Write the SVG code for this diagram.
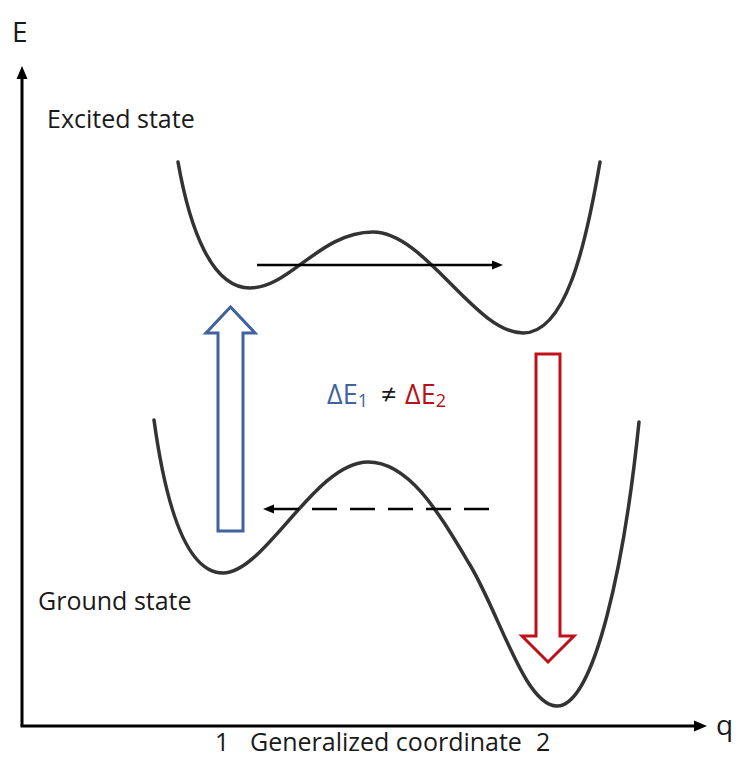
<svg xmlns="http://www.w3.org/2000/svg" width="739" height="759" viewBox="0 0 739 759">
  <style>
    text { font-family: "Open Sans", "Liberation Sans", Arial, sans-serif; }
    .lbl { fill: #1a1a1a; font-size: 25px; }
    .curve { fill: none; stroke: #333333; stroke-width: 3.5; stroke-linecap: round; }
    .axis { fill: none; stroke: #000; stroke-width: 3; }
    .conn { fill: none; stroke: #000; stroke-width: 2.5; }
    .hollow { fill: #ffffff; stroke-width: 3; stroke-linejoin: miter; }
  </style>
  <defs>
    <marker id="head" markerUnits="userSpaceOnUse" markerWidth="14" markerHeight="12" refX="1" refY="6" orient="auto">
      <path d="M0,0.5 L13,6 L0,11.5 z" fill="#000"/>
    </marker>
    <marker id="headsm" markerUnits="userSpaceOnUse" markerWidth="12" markerHeight="10" refX="1" refY="5" orient="auto">
      <path d="M0,0.5 L11,5 L0,9.5 z" fill="#000"/>
    </marker>
  </defs>

  <g id="axes">
    <line class="axis" x1="22" y1="726" x2="22" y2="78" marker-end="url(#head)"/>
    <line class="axis" x1="20.5" y1="726" x2="695" y2="726" marker-end="url(#head)"/>
    <text class="lbl" x="12" y="42" style="font-size:28px">E</text>
    <text class="lbl" x="716" y="735" style="font-size:28px">q</text>
    <text class="lbl" y="751"><tspan x="215">1</tspan><tspan x="250">Generalized coordinate</tspan><tspan x="536">2</tspan></text>
  </g>

  <g id="excited-state">
    <path class="curve" d="M178,162 C190,230 212,288 250,288 C290,288 320,232 373,232 C425,232 475,333 523,333 C565,333 585,250 600,162"/>
    <text class="lbl" x="47" y="128">Excited state</text>
  </g>

  <g id="ground-state">
    <path class="curve" d="M154,420 C165,500 185,573 223,573 C265,573 315,462 368,462 C410,462 440,515 470,565 C500,615 525,706 557,706 C595,706 625,560 639,422"/>
    <text class="lbl" x="38" y="610">Ground state</text>
  </g>

  <g id="delta-label">
    <text y="404" font-size="27"><tspan x="327" fill="#41629e">ΔE</tspan><tspan fill="#41629e" font-size="18" dy="3">1</tspan><tspan x="381" dy="-3" fill="#1a1a1a">≠</tspan><tspan x="405" fill="#b5121b">ΔE</tspan><tspan fill="#b5121b" font-size="18" dy="3">2</tspan></text>
  </g>

  <g id="connectors">
    <line class="conn" x1="257" y1="265" x2="493" y2="265" marker-end="url(#headsm)"/>
    <line class="conn" x1="489" y1="509" x2="273" y2="509" stroke-dasharray="25 13" marker-end="url(#headsm)"/>
    <path id="excitation" class="hollow" stroke="#41629e" d="M218,531 L243,531 L243,333 L255,333 L230.5,307 L206,333 L218,333 Z"/>
    <path id="emission" class="hollow" stroke="#c0101a" d="M536,354 L560,354 L560,636 L574,636 L548,662 L522,636 L536,636 Z"/>
  </g>
</svg>
